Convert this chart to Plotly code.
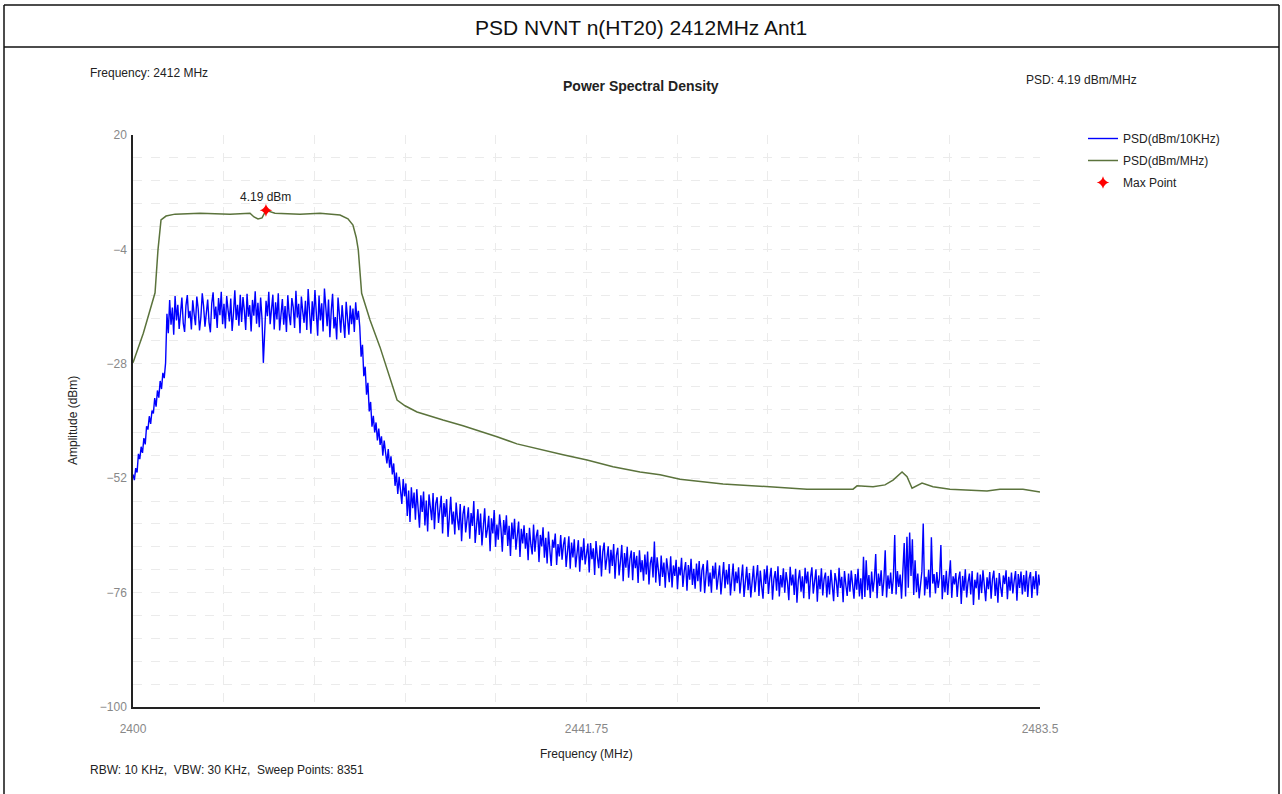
import numpy as np
import plotly.graph_objects as go

# ---- 1 MHz integrated PSD trace (dBm/MHz) ----
psd_mhz_freq = [2400.0, 2400.95, 2402.03, 2402.30, 2402.58, 2403.04, 2403.87, 2406.17,
                2408.93, 2410.77, 2411.14, 2411.51, 2411.88, 2412.24, 2413.07, 2415.37,
                2417.22, 2419.06, 2419.79, 2420.25, 2420.55, 2420.74, 2421.05, 2421.82,
                2422.74, 2423.66, 2424.31, 2425.04, 2426.15, 2428.54, 2430.38, 2433.51,
                2435.35, 2439.59, 2441.80, 2444.19, 2446.68, 2448.52, 2450.36, 2454.32,
                2458.92, 2462.05, 2466.29, 2466.66, 2468.13, 2469.23, 2469.97, 2470.80,
                2471.26, 2471.72, 2472.64, 2473.65, 2475.21, 2478.62, 2479.81, 2481.93,
                2483.5]
psd_mhz_db = [-27.8, -21.6, -13.1, -4.1, 2.2, 3.0, 3.4, 3.6,
              3.4, 3.6, 2.8, 2.4, 2.6, 4.19, 3.6, 3.4,
              3.6, 3.2, 2.4, 1.1, -1.5, -4.1, -13.2, -18.8,
              -24.5, -31.0, -35.6, -36.8, -38.1, -39.8, -41.0, -43.3,
              -44.8, -47.1, -48.2, -49.6, -50.7, -51.3, -52.2, -53.2,
              -53.8, -54.3, -54.3, -53.6, -53.8, -53.4, -52.4, -50.7,
              -51.7, -54.1, -53.0, -53.8, -54.3, -54.7, -54.3, -54.3,
              -54.9]

# ---- 10 kHz RBW trace (dBm/10KHz), sampled every 0.125 MHz, 16 values per 2 MHz row ----
blue_start = 2400.0
blue_stop = 2483.5
psd_10k_db = [
    -51.2, -52.4, -49.9, -50.8, -46.9, -48.0, -45.4, -46.7, -43.6, -44.9, -41.1, -41.8, -39.0, -40.6, -37.8, -38.4,  # 2400
    -35.2, -37.0, -33.6, -35.1, -31.6, -33.3, -29.9, -31.0, -27.8, -17.5, -21.6, -14.6, -19.8, -16.2, -21.9, -13.8,  # 2402
    -18.9, -15.6, -20.7, -17.2, -14.1, -19.5, -21.3, -15.8, -13.6, -18.4, -16.9, -20.8, -14.7, -17.5, -19.9, -13.9,  # 2404
    -16.4, -21.0, -18.2, -13.2, -15.9, -20.2, -17.1, -14.5, -19.3, -21.4, -15.3, -13.0, -18.6, -16.0, -20.5, -14.2,  # 2406
    -17.8, -12.9, -19.7, -15.4, -20.6, -13.8, -16.7, -19.1, -14.3, -21.1, -17.4, -12.6, -18.8, -15.6, -20.0, -13.5,  # 2408
    -19.2, -14.0, -16.8, -20.9, -13.3, -18.1, -15.7, -21.2, -14.6, -17.9, -12.8, -19.6, -15.2, -20.3, -14.1, -18.5,  # 2410
    -27.8, -20.6, -14.8, -18.0, -12.9, -19.7, -16.3, -13.5, -20.8, -15.1, -18.7, -13.2, -21.0, -16.6, -14.4, -19.8,  # 2412
    -15.9, -21.3, -13.6, -17.7, -19.9, -14.2, -16.1, -20.5, -12.7, -18.3, -15.4, -21.6, -13.9, -17.0, -19.4, -14.8,  # 2414
    -20.9, -12.3, -17.5, -21.7, -14.9, -19.0, -12.5, -16.8, -22.1, -13.7, -18.9, -15.3, -21.2, -12.2, -17.3, -20.1,  # 2416
    -14.5, -22.4, -16.9, -13.3, -20.6, -18.2, -22.9, -14.1, -17.6, -21.5, -15.7, -19.3, -22.6, -15.0, -18.4, -21.9,  # 2418
    -15.8, -19.7, -16.4, -21.3, -15.1, -18.8, -16.9, -20.2, -26.5, -24.0, -30.6, -28.6, -34.5, -32.0, -38.0, -36.0,  # 2420
    -41.2, -38.9, -42.4, -40.3, -44.1, -41.6, -45.0, -43.2, -47.3, -44.1, -46.6, -48.9, -45.9, -49.8, -47.4, -51.2,  # 2422
    -48.9, -53.6, -50.8, -55.3, -51.7, -54.0, -57.4, -52.2, -55.8, -53.1, -59.9, -54.6, -61.2, -53.9, -58.3, -55.0,  # 2424
    -60.7, -54.3, -57.8, -62.4, -55.6, -59.1, -54.8, -61.9, -56.7, -63.2, -55.4, -58.6, -60.8, -55.1, -62.7, -57.3,  # 2426
    -56.0, -61.4, -58.3, -55.7, -63.6, -57.2, -60.1, -56.4, -64.3, -58.8, -55.9, -61.7, -59.0, -63.8, -57.1, -60.6,  # 2428
    -62.9, -57.4, -65.2, -59.6, -57.8, -63.4, -60.2, -58.1, -64.7, -59.3, -62.0, -56.8, -65.6, -60.7, -58.5, -63.9,  # 2430
    -59.4, -66.1, -61.2, -58.3, -64.5, -62.8, -59.9, -67.3, -60.4, -63.6, -58.7, -66.4, -61.7, -64.9, -59.6, -62.5,  # 2432
    -67.4, -60.8, -63.9, -59.8, -66.2, -62.0, -68.3, -61.3, -64.8, -60.5, -67.0, -63.3, -61.1, -68.5, -62.6, -65.7,  # 2434
    -61.9, -66.8, -63.5, -69.2, -62.4, -65.9, -68.0, -61.7, -67.4, -64.2, -62.8, -69.6, -63.9, -66.3, -62.3, -68.7,  # 2436
    -64.5, -69.9, -63.2, -67.1, -70.4, -64.9, -66.6, -63.6, -70.2, -65.8, -68.4, -63.9, -69.1, -66.0, -64.4, -70.6,  # 2438
    -66.9, -64.2, -71.0, -65.5, -68.6, -64.8, -70.7, -67.3, -65.0, -71.6, -66.4, -69.2, -64.6, -70.1, -67.8, -65.7,  # 2440
    -71.8, -65.6, -69.0, -66.7, -72.3, -65.2, -68.5, -70.9, -66.1, -72.6, -67.4, -65.5, -71.2, -68.9, -66.3, -72.0,  # 2442
    -67.0, -70.4, -65.8, -73.1, -68.2, -66.6, -72.4, -69.5, -66.0, -73.6, -67.7, -70.8, -66.4, -72.9, -68.9, -67.2,  # 2444
    -73.4, -67.5, -70.9, -68.3, -74.0, -67.1, -71.7, -69.2, -73.5, -68.0, -72.2, -67.4, -74.3, -69.8, -68.5, -72.8,  # 2446
    -65.3, -73.9, -68.6, -71.4, -74.6, -68.2, -72.7, -69.7, -75.0, -68.8, -71.9, -73.8, -68.4, -74.9, -70.3, -72.5,  # 2448
    -69.1, -75.3, -70.6, -72.4, -68.7, -74.8, -71.5, -69.6, -75.6, -70.2, -73.3, -68.9, -74.4, -71.0, -75.2, -69.9,  # 2450
    -73.6, -69.4, -75.8, -71.3, -70.0, -76.1, -72.5, -69.2, -74.7, -71.8, -76.0, -70.4, -73.1, -69.7, -75.4, -72.0,  # 2452
    -70.3, -76.4, -72.8, -69.6, -75.1, -71.2, -74.3, -70.0, -76.6, -72.1, -69.9, -75.7, -71.6, -74.0, -70.7, -76.2,  # 2454
    -72.4, -70.1, -76.9, -73.0, -70.6, -75.5, -71.9, -77.0, -72.7, -70.4, -75.9, -73.5, -70.2, -76.7, -71.4, -74.6,  # 2456
    -77.3, -71.1, -74.2, -70.3, -76.3, -72.9, -70.8, -77.5, -73.2, -71.5, -75.6, -70.5, -76.8, -72.3, -74.9, -70.9,  # 2458
    -76.0, -71.7, -73.8, -77.6, -70.6, -74.5, -72.2, -76.5, -71.0, -78.1, -73.4, -71.3, -75.8, -72.6, -77.2, -70.8,  # 2460
    -74.1, -71.6, -77.4, -72.8, -70.7, -76.2, -73.7, -71.1, -77.9, -72.4, -75.3, -70.9, -76.6, -73.1, -71.8, -77.0,  # 2462
    -72.5, -76.4, -71.2, -74.7, -77.8, -71.9, -73.6, -76.9, -70.8, -75.0, -72.7, -78.0, -71.5, -74.4, -76.7, -72.0,  # 2464
    -75.8, -71.4, -73.9, -77.3, -72.1, -75.4, -71.0, -76.8, -73.0, -77.4, -68.5, -76.9, -69.2, -75.5, -72.3, -77.1,  # 2466
    -71.6, -75.8, -73.2, -67.9, -77.2, -72.0, -74.6, -71.3, -76.7, -73.5, -67.1, -77.0, -72.4, -75.2, -71.8, -76.3,  # 2468
    -72.9, -63.9, -76.4, -71.5, -74.8, -72.2, -77.3, -71.9, -65.6, -76.8, -64.3, -75.0, -63.4, -72.5, -64.8, -76.5,  # 2470
    -69.2, -75.9, -72.0, -77.2, -73.4, -71.6, -61.5, -76.6, -72.7, -75.3, -71.2, -77.0, -64.4, -74.1, -72.1, -76.2,  # 2472
    -71.7, -75.0, -73.0, -66.0, -77.4, -72.3, -75.9, -71.4, -76.5, -73.6, -69.2, -77.1, -72.6, -74.3, -71.9, -76.9,  # 2474
    -73.2, -71.6, -78.4, -72.5, -75.6, -71.1, -77.0, -73.8, -72.0, -76.4, -71.5, -78.6, -73.3, -75.1, -71.8, -77.5,  # 2476
    -72.2, -76.1, -71.3, -74.5, -77.8, -72.8, -75.3, -71.7, -77.3, -73.1, -71.4, -76.7, -72.9, -78.1, -71.9, -74.8,  # 2478
    -76.9, -72.4, -74.2, -71.3, -77.4, -72.7, -75.6, -71.8, -76.2, -73.5, -71.5, -77.7, -72.1, -75.0, -71.6, -76.4,  # 2480
    -72.3, -75.8, -71.4, -76.9, -73.0, -71.7, -77.1, -72.6, -75.3, -71.5, -76.6, -72.2, -74.5,                       # 2482
]
psd_10k_freq = np.linspace(blue_start, blue_stop, len(psd_10k_db))

# ---- max point ----
max_freq = 2412.24
max_db = 4.19

# ---- axis ticks ----
x_tick_vals = [2400, 2441.75, 2483.5]
x_tick_text = ["2400", "2441.75", "2483.5"]
y_tick_vals = [-100, -76, -52, -28, -4, 20]

# ---- page geometry (pixels) ----
W, H = 1282, 794
L, R, T, B = 133, 1040, 135, 707
FONT = "Liberation Sans, Arial, sans-serif"
TXT = "#222222"


def fx(px):
    return (px - L) / (R - L)


def fy(py):
    return (B - py) / (B - T)


fig = go.Figure()

fig.add_trace(go.Scatter(
    x=psd_10k_freq, y=psd_10k_db, mode="lines", name="PSD(dBm/10KHz)",
    line=dict(color="#0000ff", width=1.4), legendgroup="a",
))
fig.add_trace(go.Scatter(
    x=psd_mhz_freq, y=psd_mhz_db, mode="lines", name="PSD(dBm/MHz)",
    line=dict(color="#5b733c", width=1.5), legendgroup="b",
))
fig.add_trace(go.Scatter(
    x=[max_freq], y=[max_db], mode="markers", name="Max Point",
    marker=dict(symbol="star-diamond", size=9, color="#ff0000"), legendgroup="c",
))

grid = dict(gridcolor="#ebebeb", griddash="dash", gridwidth=1)

fig.update_xaxes(
    range=[2400, 2483.5], tickmode="array", tickvals=x_tick_vals, ticktext=x_tick_text,
    showline=True, linecolor="#222222", linewidth=1.5, mirror=False,
    ticks="", ticklabelstandoff=10, zeroline=False, showgrid=True, **grid,
    tickfont=dict(family=FONT, size=12, color="#888888"),
    minor=dict(dtick=8.35, tick0=2400, showgrid=True, **grid),
)
fig.update_yaxes(
    range=[-100, 20], tickmode="array", tickvals=y_tick_vals,
    showline=True, linecolor="#222222", linewidth=1.5,
    ticks="", ticklabelstandoff=2, zeroline=False, showgrid=True, **grid,
    tickfont=dict(family=FONT, size=12, color="#888888"),
    minor=dict(dtick=4.8, tick0=-100, showgrid=True, **grid),
)

# frame around the page and the header row
frame = dict(type="line", xref="paper", yref="paper", line=dict(color="#111111", width=1.5))
shapes = [
    dict(frame, x0=fx(4), x1=fx(1279), y0=fy(5), y1=fy(5)),
    dict(frame, x0=fx(4), x1=fx(1279), y0=fy(47), y1=fy(47)),
    dict(frame, x0=fx(4), x1=fx(4), y0=fy(5), y1=fy(800)),
    dict(frame, x0=fx(1279), x1=fx(1279), y0=fy(5), y1=fy(800)),
]


def note(text, px, py, size=12, xanchor="left", bold=False, angle=0, color=TXT):
    return dict(
        text=f"<b>{text}</b>" if bold else text, x=fx(px), y=fy(py),
        xref="paper", yref="paper", xanchor=xanchor, yanchor="middle",
        showarrow=False, textangle=angle,
        font=dict(family=FONT, size=size, color=color),
    )


annotations = [
    note("PSD NVNT n(HT20) 2412MHz Ant1", 641, 27, size=21, xanchor="center", color="#111111"),
    note("Frequency: 2412 MHz", 88, 73),
    note("Power Spectral Density", 641, 86, size=14, xanchor="center", bold=True),
    note("PSD: 4.19 dBm/MHz", 1024, 80),
    note("Amplitude (dBm)", 73, 421, angle=-90, xanchor="center"),
    note("Frequency (MHz)", 586, 754, xanchor="center"),
    note("RBW: 10 KHz,  VBW: 30 KHz,  Sweep Points: 8351", 88, 770),
    dict(text=f"{max_db} dBm", x=max_freq, y=max_db, xref="x", yref="y",
         xanchor="center", yanchor="bottom", yshift=4, showarrow=False,
         font=dict(family=FONT, size=12, color=TXT)),
]

fig.update_layout(
    width=W, height=H, autosize=False,
    margin=dict(l=L, r=W - R, t=T, b=H - B, pad=0),
    paper_bgcolor="white", plot_bgcolor="white",
    shapes=shapes, annotations=annotations,
    showlegend=True,
    legend=dict(
        x=fx(1083), y=fy(124), xanchor="left", yanchor="top",
        font=dict(family=FONT, size=12, color=TXT),
        itemwidth=30, tracegroupgap=3, bgcolor="rgba(0,0,0,0)",
    ),
)

fig.write_html("out.html")
